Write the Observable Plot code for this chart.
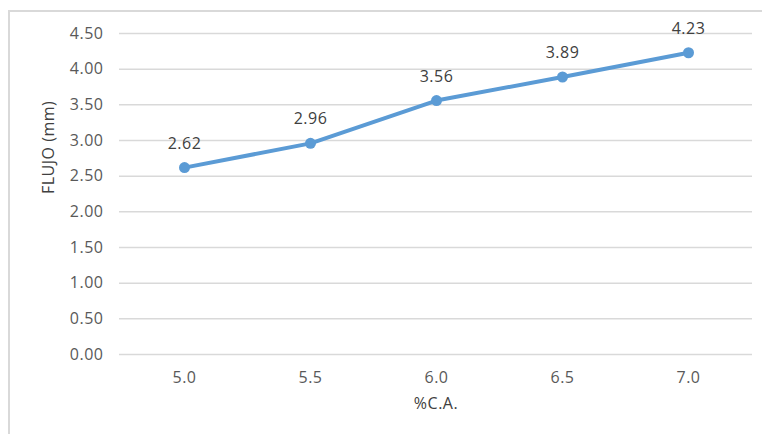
<!DOCTYPE html>
<html>
<head>
<meta charset="utf-8">
<script src="https://cdn.jsdelivr.net/npm/d3@7"></script>
<script src="https://cdn.jsdelivr.net/npm/@observablehq/plot@0.6"></script>
<style>
  html, body { margin: 0; padding: 0; background: #fff; }
  #wrap { position: relative; width: 762px; height: 434px; overflow: hidden; }
  #border { position: absolute; left: 8px; top: 10px; width: 800px; height: 500px;
            border-left: 2px solid #d9d9d9; border-top: 2px solid #d9d9d9; }
  #wrap svg { position: absolute; left: 0; top: 0; }
  #wrap svg text { letter-spacing: 0.5px; }
</style>
</head>
<body>
<div id="wrap"><div id="border"></div></div>
<script>
// % de cemento asfáltico y flujo medido
const categories = ["5.0", "5.5", "6.0", "6.5", "7.0"];
const flujo = [2.62, 2.96, 3.56, 3.89, 4.23];
const yTicks = [0, 0.5, 1, 1.5, 2, 2.5, 3, 3.5, 4, 4.5];

const data = categories.map((c, i) => ({ca: c, flujo: flujo[i]}));
const textColor = "#595959";
const blue = "#5b9bd5";

const chart = Plot.plot({
  width: 762,
  height: 434,
  marginLeft: 119,
  marginRight: 10,
  marginTop: 33,
  marginBottom: 80,
  style: { fontFamily: "'Open Sans', sans-serif", fontSize: "16px", color: textColor, background: "transparent" },
  x: { type: "point", domain: categories, padding: 0.5, label: null },
  y: { domain: [0, 4.5], label: null },
  marks: [
    Plot.gridY(yTicks, { stroke: "#d9d9d9", strokeOpacity: 1, strokeWidth: 1.5 }),
    Plot.axisY(yTicks, { tickSize: 0, tickPadding: 16, fontSize: 16, tickFormat: d3.format(".2f"), fill: textColor, label: null }),
    Plot.axisX(categories, { tickSize: 0, tickPadding: 17, fontSize: 16, fill: textColor, label: null }),
    Plot.line(data, { x: "ca", y: "flujo", stroke: blue, strokeWidth: 4, strokeLinejoin: "round", strokeLinecap: "round" }),
    Plot.dot(data, { x: "ca", y: "flujo", r: 5.5, fill: blue, stroke: null }),
    Plot.text(data, { x: "ca", y: "flujo", text: d => d.flujo.toFixed(2), dy: -24, fontSize: 16, fill: "#404040" }),
    Plot.text(["FLUJO (mm)"], { frameAnchor: "left", dx: -71, rotate: -90, fontSize: 16, fill: "#404040" }),
    Plot.text(["%C.A."], { frameAnchor: "bottom", dy: 54, fontSize: 16, fill: "#404040" })
  ]
});
document.getElementById("wrap").appendChild(chart);
</script>
</body>
</html>
